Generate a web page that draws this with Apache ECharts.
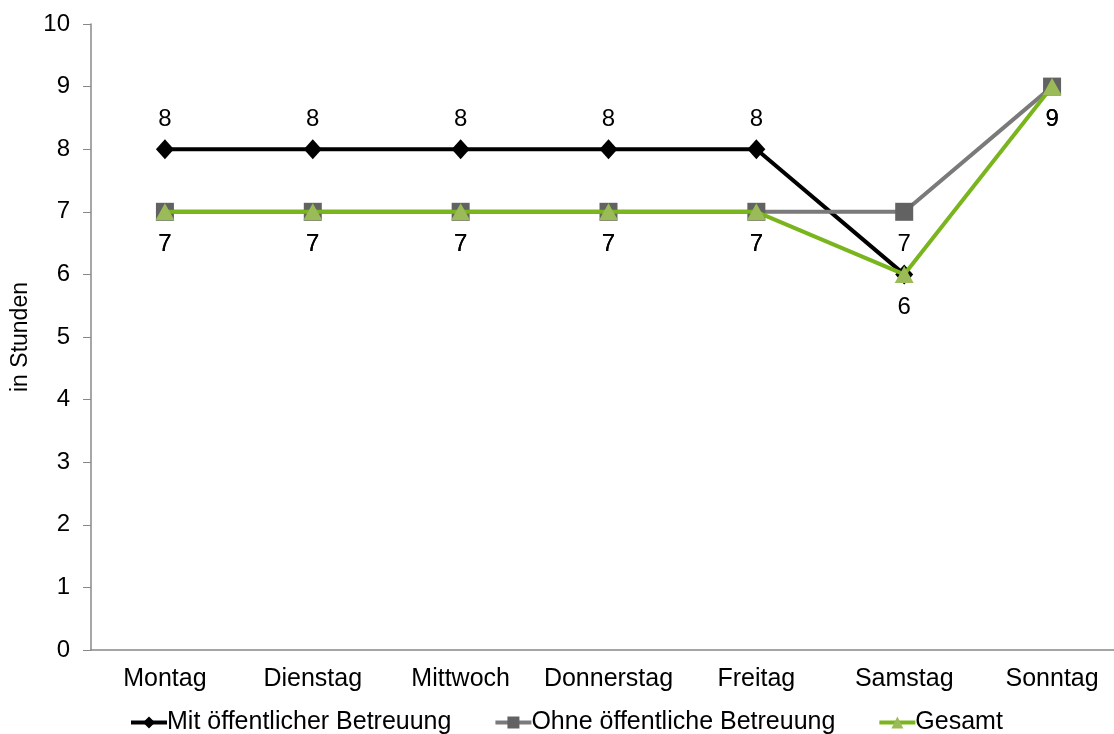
<!DOCTYPE html>
<html><head><meta charset="utf-8">
<script src="https://cdn.jsdelivr.net/npm/echarts@6/dist/echarts.min.js"></script>
<style>html,body{margin:0;padding:0;background:#fff}#c{width:1114px;height:734px}</style>
</head><body><div id="c"></div>
<script>
const categories = ['Montag','Dienstag','Mittwoch','Donnerstag','Freitag','Samstag','Sonntag'];
const mitValues = [8, 8, 8, 8, 8, 6, null];
const ohneValues = [7, 7, 7, 7, 7, 7, 9];
const gesamtValues = [7, 7, 7, 7, 7, 6, 9];
const yTicks = [0,1,2,3,4,5,6,7,8,9,10];

const F = 'Liberation Sans, Arial, sans-serif';
const FS = 24;
const chart = echarts.init(document.getElementById('c'), null, {renderer:'canvas'});
function lbl(pos, d){return {show:true, position:pos, distance:d, color:'#000', fontSize:FS, fontFamily:F};}
chart.setOption({
  animation:false,
  grid:{left:91, right:-12, top:24, bottom:84, containLabel:false, outerBoundsMode:'none'},
  legend:{
    top:705, left:124, itemGap:42, itemWidth:36, itemHeight:15,
    textStyle:{fontSize:25, fontFamily:F, color:'#000', padding:[0,0,0,-5]},
    lineStyle:{width:4},
    data:['Mit öffentlicher Betreuung','Ohne öffentliche Betreuung','Gesamt']
  },
  xAxis:{
    type:'category', data:categories, boundaryGap:true,
    axisLine:{lineStyle:{color:'#888', width:1.5}},
    axisTick:{alignWithLabel:true, interval:0, length:8, lineStyle:{color:'#888'}},
    axisLabel:{interval:0, hideOverlap:false, fontSize:25, fontFamily:F, color:'#000', margin:17}
  },
  yAxis:{
    type:'value', min:yTicks[0], max:yTicks[yTicks.length-1], interval:1,
    name:'in Stunden', nameLocation:'middle', nameGap:57,
    nameTextStyle:{fontSize:23, fontFamily:F, color:'#000'},
    axisLine:{show:true, lineStyle:{color:'#888', width:1.5}},
    axisTick:{show:true, length:8, lineStyle:{color:'#888'}},
    splitLine:{show:false},
    axisLabel:{fontSize:FS, fontFamily:F, color:'#000', margin:21}
  },
  series:[
    {name:'Mit öffentlicher Betreuung', type:'line',
     data:mitValues.map((v,i)=> i===5 ? {value:v, label:{show:false}} : v),
     symbol:'diamond', symbolSize:[18,20], showAllSymbol:true,
     itemStyle:{color:'#000'}, lineStyle:{color:'#000', width:4},
     label:lbl('top', 8), z:2},
    {name:'Ohne öffentliche Betreuung', type:'line', data:ohneValues,
     symbol:'rect', symbolSize:18, showAllSymbol:true,
     itemStyle:{color:'#626262'}, lineStyle:{color:'#7a7a7a', width:4},
     label:lbl('bottom', 12), z:3},
    {name:'Gesamt', type:'line', data:gesamtValues,
     symbol:'triangle', symbolSize:[19,17], showAllSymbol:true,
     itemStyle:{color:'#9bbb59'}, lineStyle:{color:'#7ab51d', width:4},
     label:lbl('bottom', 12), z:4}
  ]
});
</script></body></html>
